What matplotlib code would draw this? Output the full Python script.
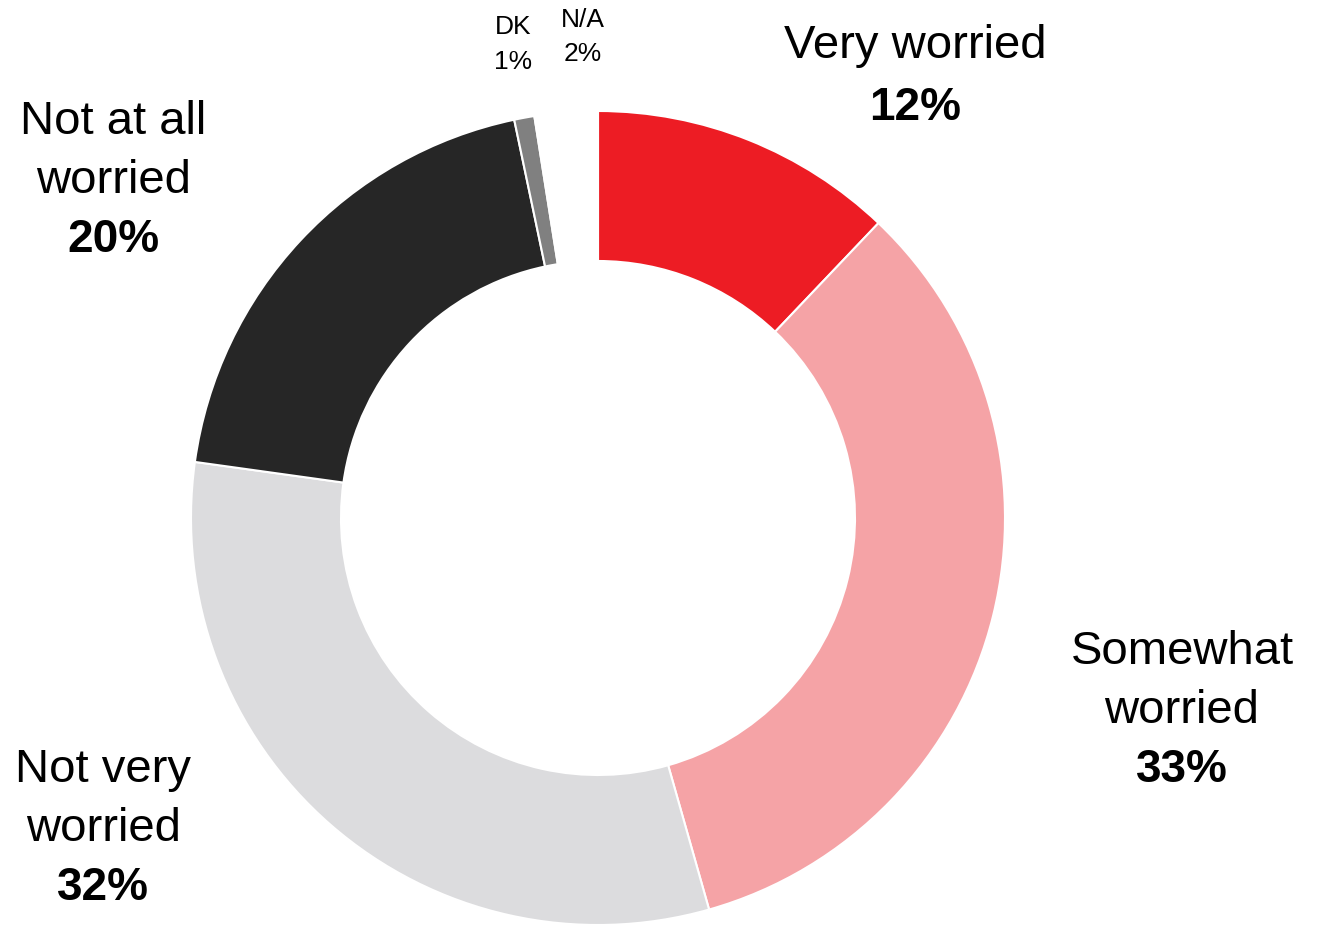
import matplotlib
matplotlib.use("Agg")
import matplotlib.pyplot as plt

categories = ["Very worried", "Somewhat worried", "Not very worried", "Not at all worried", "DK", "N/A"]
# slice sizes (percent)
values = [12.1, 33.5, 31.6, 19.5, 0.8, 2.5]
# percentages printed on the labels
pct_labels = ["12%", "33%", "32%", "20%", "1%", "2%"]
colors = ["#ED1C24", "#F5A3A6", "#DCDCDE", "#262626", "#808080", "#FFFFFF"]
label_lines = [["Very worried"], ["Somewhat", "worried"], ["Not very", "worried"],
               ["Not at all", "worried"], ["DK"], ["N/A"]]

plt.rcParams['font.family'] = ['Liberation Sans', 'DejaVu Sans']

W, H = 1324, 926
fig = plt.figure(figsize=(W / 100, H / 100), dpi=100)
ax = fig.add_axes([0, 0, 1, 1])

cx, cy, R = 598, H - 518, 407
ax.pie(values, colors=colors, startangle=90, counterclock=False,
       center=(cx, cy), radius=R,
       wedgeprops=dict(width=150, edgecolor="white", linewidth=1.5))
ax.set_xlim(0, W)
ax.set_ylim(0, H)
ax.set_aspect('equal')
ax.axis('off')

big = {
    0: (915, 46, 62),
    1: (1182, 652, 59),
    2: (103, 770, 59),
    3: (113, 122, 59),
}
for i, (x, y0, dy) in big.items():
    lines = label_lines[i]
    for k, t in enumerate(lines):
        ax.text(x, H - (y0 + k * dy), t, ha='center', va='center', fontsize=34, color='black')
    ax.text(x, H - (y0 + len(lines) * dy), pct_labels[i], ha='center', va='center',
            fontsize=33, fontweight='bold', color='black')

small = {4: (513, 27, 35), 5: (583, 20, 34)}
for i, (x, y0, dy) in small.items():
    ax.text(x, H - y0, label_lines[i][0], ha='center', va='center', fontsize=19, color='black')
    ax.text(x, H - (y0 + dy), pct_labels[i], ha='center', va='center', fontsize=19, color='black')

fig.savefig("out.png", dpi=100)
